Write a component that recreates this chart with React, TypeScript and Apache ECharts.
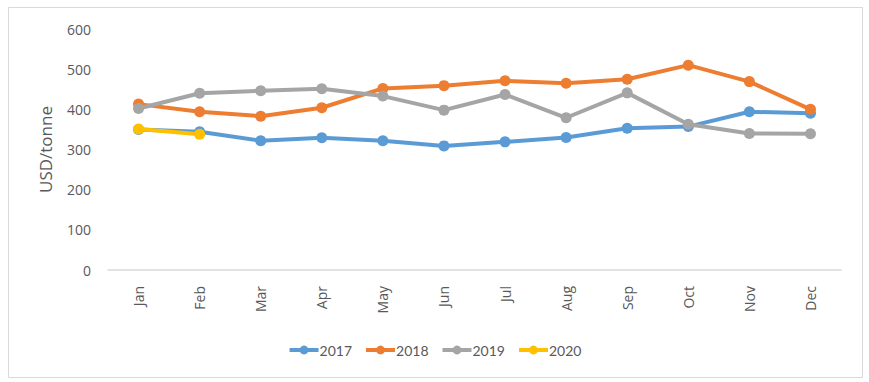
import React, { useEffect, useRef } from "react";
import * as echarts from "echarts";

const months = ["Jan", "Feb", "Mar", "Apr", "May", "Jun", "Jul", "Aug", "Sep", "Oct", "Nov", "Dec"];
const s2017 = [350, 344, 322, 329, 322, 309, 319, 330, 353, 357, 394, 390];
const s2018 = [413, 394, 383, 404, 452, 459, 471, 465, 475, 510, 469, 400];
const s2019 = [402, 440, 446, 451, 433, 398, 437, 379, 441, 363, 340, 339];
const s2020 = [351, 338];
const seriesNames = ["2017", "2018", "2019", "2020"];
const colors = ["#5B9BD5", "#ED7D31", "#A5A5A5", "#FFC000"];

export default function App() {
  const ref = useRef<HTMLDivElement>(null);
  useEffect(() => {
    if (!ref.current) return;
    const chart = echarts.init(ref.current, undefined, { renderer: "svg" });
    const font = "'Open Sans', Lato, sans-serif";
    const data = [s2017, s2018, s2019, s2020];
    chart.setOption({
      animation: false,
      textStyle: { fontFamily: font },
      grid: { left: 108, right: 28, top: 29, bottom: 112, containLabel: false },
      graphic: [
        {
          type: "rect",
          shape: { x: 8.5, y: 7.5, width: 854, height: 370 },
          style: { fill: "none", stroke: "#d9d9d9", lineWidth: 1 },
          silent: true,
        },
      ],
      legend: {
        data: seriesNames,
        left: "center",
        top: 338,
        itemWidth: 29,
        itemHeight: 11,
        itemGap: 12,
        lineStyle: { width: 4 },
        textStyle: { color: "#595959", fontSize: 14, fontFamily: "Lato, sans-serif", padding: [0, 0, 0, -4] },
      },
      xAxis: {
        type: "category",
        data: months,
        boundaryGap: true,
        axisLine: { show: true, lineStyle: { color: "#d9d9d9", width: 1.5 } },
        axisTick: { show: false },
        axisLabel: { rotate: 90, color: "#595959", fontSize: 14, margin: 16, fontFamily: font },
      },
      yAxis: {
        type: "value",
        min: 0,
        max: 600,
        interval: 100,
        name: "USD/tonne",
        nameLocation: "middle",
        nameGap: 54,
        nameTextStyle: { color: "#595959", fontSize: 17, fontFamily: font },
        axisLine: { show: false },
        axisTick: { show: false },
        splitLine: { show: false },
        axisLabel: { color: "#595959", fontSize: 14, margin: 17, fontFamily: font },
      },
      series: data.map((d, i) => ({
        name: seriesNames[i],
        type: "line",
        data: d,
        symbol: "circle",
        symbolSize: 11,
        lineStyle: { width: 4, color: colors[i] },
        itemStyle: { color: colors[i] },
        z: 2 + i,
      })),
    });
    return () => chart.dispose();
  }, []);
  return (
    <div
      ref={ref}
      style={{ position: "absolute", left: 0, top: 0, width: 869, height: 382, background: "#fff" }}
    />
  );
}
